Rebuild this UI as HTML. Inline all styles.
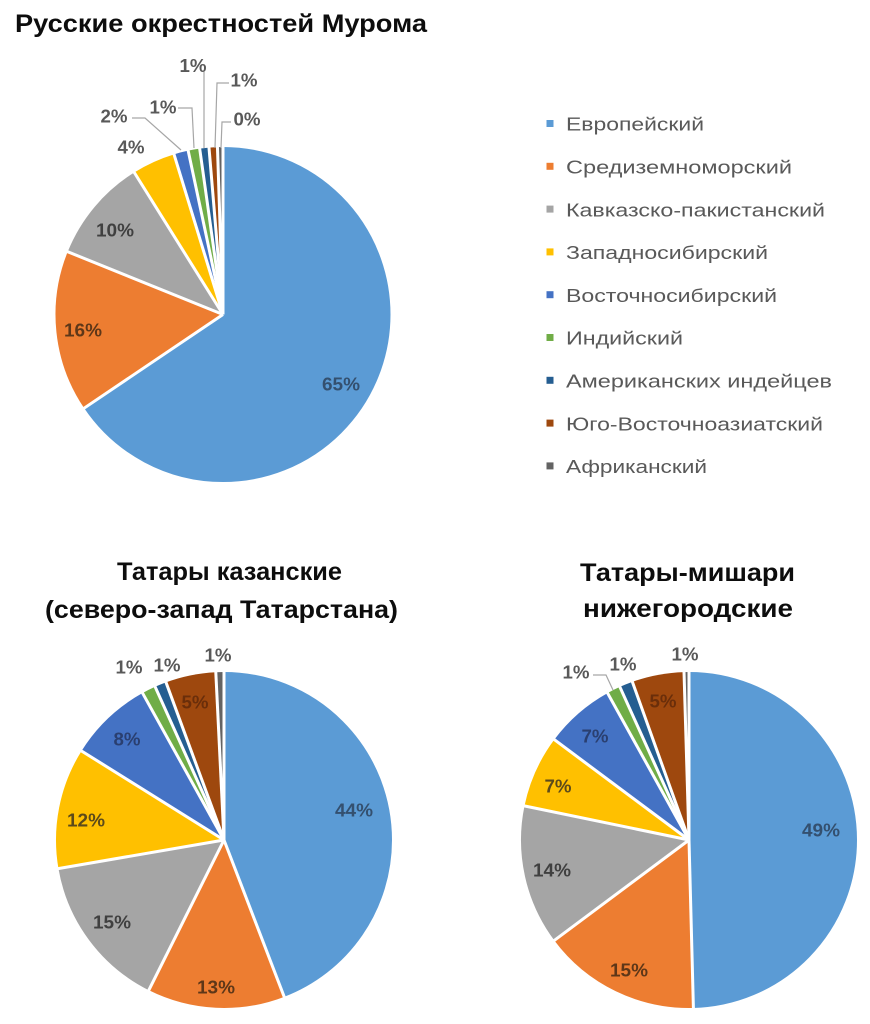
<!DOCTYPE html>
<html><head><meta charset="utf-8"><style>
html,body{margin:0;padding:0;background:#fff;}
svg{display:block;}
text{font-family:"Liberation Sans",sans-serif;}
.t{font-weight:bold;font-size:25px;fill:#0d0d0d;}
.lg{font-size:18.5px;fill:#595959;}
.lb{font-weight:bold;font-size:18px;text-anchor:middle;}
.o{fill:#595959;}
.sep{stroke:#fff;stroke-width:3;}
.ld{fill:none;stroke:#a6a6a6;stroke-width:1.2;}
</style></head><body>
<svg width="870" height="1024" viewBox="0 0 870 1024" xmlns="http://www.w3.org/2000/svg">
<rect width="870" height="1024" fill="#fff"/>

<!-- Titles -->
<text class="t" x="15" y="32" textLength="412" lengthAdjust="spacingAndGlyphs">Русские окрестностей Мурома</text>
<text class="t" x="117" y="580" textLength="225" lengthAdjust="spacingAndGlyphs">Татары казанские</text>
<text class="t" x="45" y="618" textLength="353" lengthAdjust="spacingAndGlyphs">(северо-запад Татарстана)</text>
<text class="t" x="580" y="581" textLength="215" lengthAdjust="spacingAndGlyphs">Татары-мишари</text>
<text class="t" x="583" y="617" textLength="210" lengthAdjust="spacingAndGlyphs">нижегородские</text>

<!-- Pie 1 -->
<g transform="translate(223,314.5)">
  <g fill="none" stroke-width="167.5">
    <circle r="83.75" stroke="#5B9BD5" stroke-dasharray="344.97 2000" transform="rotate(-90)"/>
    <circle r="83.75" stroke="#ED7D31" stroke-dasharray="81.86 2000" transform="rotate(146)"/>
    <circle r="83.75" stroke="#A5A5A5" stroke-dasharray="52.62 2000" transform="rotate(202)"/>
    <circle r="83.75" stroke="#FFC000" stroke-dasharray="21.93 2000" transform="rotate(238)"/>
    <circle r="83.75" stroke="#4472C4" stroke-dasharray="7.31 2000" transform="rotate(253)"/>
    <circle r="83.75" stroke="#70AD47" stroke-dasharray="5.85 2000" transform="rotate(258)"/>
    <circle r="83.75" stroke="#255E91" stroke-dasharray="4.68 2000" transform="rotate(262)"/>
    <circle r="83.75" stroke="#9E480E" stroke-dasharray="4.24 2000" transform="rotate(265.2)"/>
    <circle r="83.75" stroke="#636363" stroke-dasharray="2.78 2000" transform="rotate(268.1)"/>
  </g>
  <g class="sep">
    <line x1="0" y1="0" x2="0" y2="-172" transform="rotate(0)"/>
    <line x1="0" y1="0" x2="0" y2="-172" transform="rotate(236)"/>
    <line x1="0" y1="0" x2="0" y2="-172" transform="rotate(292)"/>
    <line x1="0" y1="0" x2="0" y2="-172" transform="rotate(328)"/>
    <line x1="0" y1="0" x2="0" y2="-172" transform="rotate(343)"/>
    <line x1="0" y1="0" x2="0" y2="-172" transform="rotate(348)"/>
    <line x1="0" y1="0" x2="0" y2="-172" transform="rotate(352)"/>
    <line x1="0" y1="0" x2="0" y2="-172" transform="rotate(355.2)"/>
    <line x1="0" y1="0" x2="0" y2="-172" transform="rotate(358.1)"/>
  </g>
</g>
<g class="ld">
  <polyline points="132,118 145,118 181,150"/>
  <polyline points="178,108 192,108 194,148"/>
  <polyline points="204,72 204,148"/>
  <polyline points="229,83 217,83 215,148"/>
  <polyline points="231,122 222,122 221,148"/>
</g>
<text class="lb" x="341" y="390.5" fill="#34506f" textLength="38" lengthAdjust="spacingAndGlyphs">65%</text>
<text class="lb" x="83" y="336.5" fill="#5e3718" textLength="38" lengthAdjust="spacingAndGlyphs">16%</text>
<text class="lb" x="115" y="236.5" fill="#404040" textLength="38" lengthAdjust="spacingAndGlyphs">10%</text>
<text class="lb o" x="131" y="153.5" textLength="27" lengthAdjust="spacingAndGlyphs">4%</text>
<text class="lb o" x="114" y="122.5" textLength="27" lengthAdjust="spacingAndGlyphs">2%</text>
<text class="lb o" x="163" y="113.5" textLength="27" lengthAdjust="spacingAndGlyphs">1%</text>
<text class="lb o" x="193" y="72" textLength="27" lengthAdjust="spacingAndGlyphs">1%</text>
<text class="lb o" x="244" y="86.5" textLength="27" lengthAdjust="spacingAndGlyphs">1%</text>
<text class="lb o" x="247" y="125.5" textLength="27" lengthAdjust="spacingAndGlyphs">0%</text>

<!-- Legend -->
<g>
  <rect x="546.5" y="120" width="7" height="7" fill="#5B9BD5"/>
  <rect x="546.5" y="162.8" width="7" height="7" fill="#ED7D31"/>
  <rect x="546.5" y="205.6" width="7" height="7" fill="#A5A5A5"/>
  <rect x="546.5" y="248.4" width="7" height="7" fill="#FFC000"/>
  <rect x="546.5" y="291.2" width="7" height="7" fill="#4472C4"/>
  <rect x="546.5" y="334" width="7" height="7" fill="#70AD47"/>
  <rect x="546.5" y="376.8" width="7" height="7" fill="#255E91"/>
  <rect x="546.5" y="419.6" width="7" height="7" fill="#9E480E"/>
  <rect x="546.5" y="462.4" width="7" height="7" fill="#636363"/>
  <text class="lg" x="566" y="130.7" textLength="138" lengthAdjust="spacingAndGlyphs">Европейский</text>
  <text class="lg" x="566" y="173.5" textLength="226" lengthAdjust="spacingAndGlyphs">Средиземноморский</text>
  <text class="lg" x="566" y="216.3" textLength="259" lengthAdjust="spacingAndGlyphs">Кавказско-пакистанский</text>
  <text class="lg" x="566" y="259.1" textLength="202" lengthAdjust="spacingAndGlyphs">Западносибирский</text>
  <text class="lg" x="566" y="301.9" textLength="211" lengthAdjust="spacingAndGlyphs">Восточносибирский</text>
  <text class="lg" x="566" y="344.7" textLength="117" lengthAdjust="spacingAndGlyphs">Индийский</text>
  <text class="lg" x="566" y="387.5" textLength="266" lengthAdjust="spacingAndGlyphs">Американских индейцев</text>
  <text class="lg" x="566" y="430.3" textLength="257" lengthAdjust="spacingAndGlyphs">Юго-Восточноазиатский</text>
  <text class="lg" x="566" y="473.1" textLength="141" lengthAdjust="spacingAndGlyphs">Африканский</text>
</g>

<!-- Pie 2 -->
<g transform="translate(224,840)">
  <g fill="none" stroke-width="168">
    <circle r="84" stroke="#5B9BD5" stroke-dasharray="233.11 2000" transform="rotate(-90)"/>
    <circle r="84" stroke="#ED7D31" stroke-dasharray="69.79 2000" transform="rotate(69)"/>
    <circle r="84" stroke="#A5A5A5" stroke-dasharray="78.58 2000" transform="rotate(116.6)"/>
    <circle r="84" stroke="#FFC000" stroke-dasharray="61.28 2000" transform="rotate(170.2)"/>
    <circle r="84" stroke="#4472C4" stroke-dasharray="42.52 2000" transform="rotate(212)"/>
    <circle r="84" stroke="#70AD47" stroke-dasharray="7.04 2000" transform="rotate(241)"/>
    <circle r="84" stroke="#255E91" stroke-dasharray="5.86 2000" transform="rotate(245.8)"/>
    <circle r="84" stroke="#9E480E" stroke-dasharray="25.51 2000" transform="rotate(249.8)"/>
    <circle r="84" stroke="#636363" stroke-dasharray="4.10 2000" transform="rotate(267.2)"/>
  </g>
  <g class="sep">
    <line x1="0" y1="0" x2="0" y2="-172" transform="rotate(0)"/>
    <line x1="0" y1="0" x2="0" y2="-172" transform="rotate(159)"/>
    <line x1="0" y1="0" x2="0" y2="-172" transform="rotate(206.6)"/>
    <line x1="0" y1="0" x2="0" y2="-172" transform="rotate(260.2)"/>
    <line x1="0" y1="0" x2="0" y2="-172" transform="rotate(302)"/>
    <line x1="0" y1="0" x2="0" y2="-172" transform="rotate(331)"/>
    <line x1="0" y1="0" x2="0" y2="-172" transform="rotate(335.8)"/>
    <line x1="0" y1="0" x2="0" y2="-172" transform="rotate(339.8)"/>
    <line x1="0" y1="0" x2="0" y2="-172" transform="rotate(357.2)"/>
  </g>
</g>
<text class="lb" x="354" y="816.5" fill="#34506f" textLength="38" lengthAdjust="spacingAndGlyphs">44%</text>
<text class="lb" x="216" y="993.5" fill="#5e3718" textLength="38" lengthAdjust="spacingAndGlyphs">13%</text>
<text class="lb" x="112" y="928.5" fill="#404040" textLength="38" lengthAdjust="spacingAndGlyphs">15%</text>
<text class="lb" x="86" y="826.5" fill="#5c4a1a" textLength="38" lengthAdjust="spacingAndGlyphs">12%</text>
<text class="lb" x="127" y="745.5" fill="#2a3f70" textLength="27" lengthAdjust="spacingAndGlyphs">8%</text>
<text class="lb" x="195" y="708.5" fill="#6a2e0a" textLength="27" lengthAdjust="spacingAndGlyphs">5%</text>
<text class="lb o" x="129" y="673.5" textLength="27" lengthAdjust="spacingAndGlyphs">1%</text>
<text class="lb o" x="167" y="671.5" textLength="27" lengthAdjust="spacingAndGlyphs">1%</text>
<text class="lb o" x="218" y="661.5" textLength="27" lengthAdjust="spacingAndGlyphs">1%</text>

<!-- Pie 3 -->
<g transform="translate(689,840)">
  <g fill="none" stroke-width="168">
    <circle r="84" stroke="#5B9BD5" stroke-dasharray="261.70 2000" transform="rotate(-90)"/>
    <circle r="84" stroke="#ED7D31" stroke-dasharray="80.34 2000" transform="rotate(88.5)"/>
    <circle r="84" stroke="#A5A5A5" stroke-dasharray="70.96 2000" transform="rotate(143.3)"/>
    <circle r="84" stroke="#FFC000" stroke-dasharray="36.65 2000" transform="rotate(191.7)"/>
    <circle r="84" stroke="#4472C4" stroke-dasharray="35.63 2000" transform="rotate(216.7)"/>
    <circle r="84" stroke="#70AD47" stroke-dasharray="6.89 2000" transform="rotate(241)"/>
    <circle r="84" stroke="#255E91" stroke-dasharray="6.74 2000" transform="rotate(245.7)"/>
    <circle r="84" stroke="#9E480E" stroke-dasharray="26.39 2000" transform="rotate(250.3)"/>
    <circle r="84" stroke="#636363" stroke-dasharray="2.49 2000" transform="rotate(268.3)"/>
  </g>
  <g class="sep">
    <line x1="0" y1="0" x2="0" y2="-172" transform="rotate(0)"/>
    <line x1="0" y1="0" x2="0" y2="-172" transform="rotate(178.5)"/>
    <line x1="0" y1="0" x2="0" y2="-172" transform="rotate(233.3)"/>
    <line x1="0" y1="0" x2="0" y2="-172" transform="rotate(281.7)"/>
    <line x1="0" y1="0" x2="0" y2="-172" transform="rotate(306.7)"/>
    <line x1="0" y1="0" x2="0" y2="-172" transform="rotate(331)"/>
    <line x1="0" y1="0" x2="0" y2="-172" transform="rotate(335.7)"/>
    <line x1="0" y1="0" x2="0" y2="-172" transform="rotate(340.3)"/>
    <line x1="0" y1="0" x2="0" y2="-172" transform="rotate(358.3)"/>
  </g>
</g>
<g class="ld">
  <polyline points="593,675 606,675 613,690"/>
</g>
<text class="lb" x="821" y="836.5" fill="#34506f" textLength="38" lengthAdjust="spacingAndGlyphs">49%</text>
<text class="lb" x="629" y="976.5" fill="#5e3718" textLength="38" lengthAdjust="spacingAndGlyphs">15%</text>
<text class="lb" x="552" y="876.5" fill="#404040" textLength="38" lengthAdjust="spacingAndGlyphs">14%</text>
<text class="lb" x="558" y="792.5" fill="#5c4a1a" textLength="27" lengthAdjust="spacingAndGlyphs">7%</text>
<text class="lb" x="595" y="742.5" fill="#2a3f70" textLength="27" lengthAdjust="spacingAndGlyphs">7%</text>
<text class="lb" x="663" y="707.5" fill="#6a2e0a" textLength="27" lengthAdjust="spacingAndGlyphs">5%</text>
<text class="lb o" x="576" y="678.5" textLength="27" lengthAdjust="spacingAndGlyphs">1%</text>
<text class="lb o" x="623" y="670.5" textLength="27" lengthAdjust="spacingAndGlyphs">1%</text>
<text class="lb o" x="685" y="660.5" textLength="27" lengthAdjust="spacingAndGlyphs">1%</text>
</svg>
</body></html>
